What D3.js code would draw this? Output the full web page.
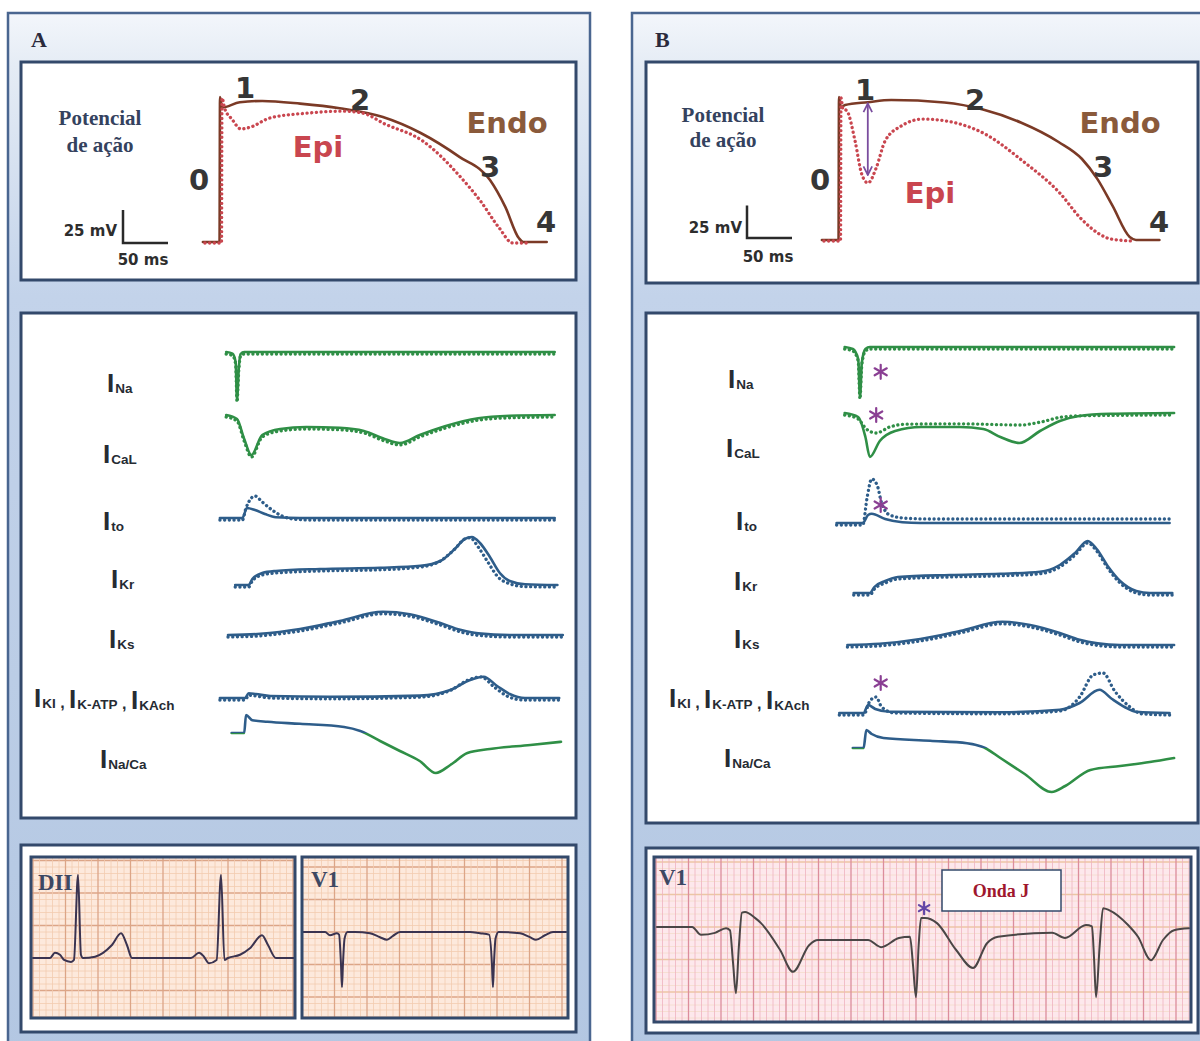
<!DOCTYPE html>
<html>
<head>
<meta charset="utf-8">
<script src="https://cdn.jsdelivr.net/npm/d3@7"></script>
<style>
  body { margin: 0; background: #fff; }
  svg { display: block; }
</style>
</head>
<body>
<svg width="1200" height="1041"></svg>
<script>
// ---- action potentials  [ms, mV] ----
var apEndoA = [[-19,-85],[-0.5,-85],[0,25],[2.2,17],[22,21],[47,22],[89,20],[133,16.5],[181,9.8],[223,-2.3],[266,-20.4],[300,-38],[317,-58.4],[332,-82],[337,-85],[363,-85]];
var apEpiA  = [[-19,-85],[-0.5,-85],[0,25],[3,17],[11,9],[21,1.5],[32,3],[53,9.8],[96,13.6],[133,15],[156,13.6],[181,5.3],[223,-7.6],[266,-35.7],[287,-53],[308,-73.6],[323,-85],[339,-85]];
var apEndoB = [[-19,-85],[-0.5,-85],[0,25],[2,17],[6.7,18.8],[32,21],[58,22.7],[117,20.8],[160,15.4],[202,5.4],[244,-9.6],[270,-22.7],[287,-38],[304,-58.8],[323,-82.7],[330,-85],[356,-85]];
var apEpiB  = [[-19,-85],[-0.5,-85],[0,25],[2,17],[6.7,15],[15.6,-8],[23,-33.5],[30,-40.4],[39,-29],[49,-8],[67,3.5],[91,8.8],[117,7.3],[160,-2.7],[202,-23.5],[244,-48.8],[266,-67.3],[287,-79.6],[300,-83.5],[326,-85]];
var notchArrowB = [32, 20, -35];   // ms, from mV, to mV

// ---- ionic currents  [ms, arbitrary units] ----
var iNaA     = [[-12,0],[-5,-0.4],[-1.5,-2.5],[0,-12],[2,-4],[4,-0.5],[8,0],[353,0]];
var iCaLA    = [[-12,0],[0,-1],[8,-6],[16,-10],[28,-5],[48,-3.5],[77,-3],[114,-3.2],[141,-4],[164,-6],[181,-7],[203,-5],[231,-2.8],[268,-0.8],[303,-0.2],[353,0]];
var itoA     = [[-19,0],[6,0],[11,2.5],[20,2],[31,1],[43,0.2],[70,0],[353,0]];
var itoEpiA  = [[-19,0],[6,0],[10,3],[13,4.5],[20,6],[28,4.5],[39,2.5],[50,1],[64,0.2],[81,0],[353,0]];
var ikrA     = [[-2,0],[13,0],[17,1.5],[28,3],[43,3.5],[92,4],[159,4.3],[204,4.8],[226,6],[242,9],[253,11.5],[261,12],[270,10.5],[281,7],[292,3],[303,1],[320,0.2],[356,0]];
var ikrEpiA  = [[-2,0],[13,0],[17,1.5],[28,3],[43,3.5],[92,4],[159,4.3],[204,5],[226,6.5],[242,9.5],[253,12],[259,12.3],[268,10],[278,6.5],[290,2.5],[303,0.8],[320,0.1],[356,0]];
var iksA     = [[-10,0],[26,0.3],[70,1.5],[114,3.5],[162,5.8],[192,5.2],[226,3],[248,1.3],[268,0.4],[303,0],[362,0]];
var ik1A     = [[-19,0],[9,0],[13,1.2],[21,1],[37,0.5],[103,0.3],[203,0.6],[237,2],[259,4.5],[274,5.3],[289,3],[303,1],[320,0],[358,0]];
var ik1EpiA  = [[-19,0],[9,0],[13,1.2],[21,1],[37,0.5],[103,0.3],[203,0.7],[237,2.4],[257,5],[271,5.8],[286,3.2],[300,1],[318,0],[358,0]];
var iNaCaA   = [[-6,0],[8,0],[10,4.5],[17,3.2],[34,2.8],[70,2.3],[119,1.5],[137,0.5],[159,-2],[181,-4.5],[203,-7],[221,-10],[237,-8],[256,-5],[281,-4],[326,-3],[360,-2.2]];

var iNaB     = [[-17,0],[-8,-0.5],[-2,-3],[0,-12.5],[2,-4],[6,-0.5],[11,0],[349,0]];
var iCaLB    = [[-17,0],[-2,-1],[6,-6],[11,-11],[22,-7],[39,-4.5],[68,-3.5],[111,-3.5],[137,-4],[156,-6],[177,-7.5],[200,-4.5],[222,-2],[242,-0.8],[278,-0.2],[349,0]];
var iCaLEpiB = [[-17,0],[-2,-1],[7,-3.5],[18,-4.5],[33,-3],[51,-2.3],[111,-2.2],[178,-2.5],[200,-1.8],[222,-0.6],[244,-0.2],[349,0]];
var itoB     = [[-26,0],[3,0],[9,2],[13,2.3],[28,1],[47,0.2],[67,0],[344,0]];
var itoEpiB  = [[-26,0],[3,0],[8,7],[13,11.5],[19,10],[24,5.5],[33,2.5],[50,1.7],[78,1.5],[344,1.5]];
var ikrB     = [[-7,0],[11,0],[16,1.5],[28,3],[42,4],[100,4.5],[156,4.8],[200,5.3],[222,7],[239,10],[253,13],[263,11],[276,6.5],[289,3],[307,0.5],[322,0],[347,0]];
var iksB     = [[-14,0],[22,0.3],[67,1.5],[111,3.5],[158,5.8],[189,5],[222,3],[244,1.3],[264,0.4],[289,0],[349,0]];
var ik1B     = [[-23,0],[4,0],[9,2],[17,1],[33,0.3],[156,0.2],[222,0.8],[244,2.5],[266,5.8],[280,3.5],[294,1.5],[307,0.3],[344,0]];
var ik1EpiB  = [[-23,0],[4,0],[11,3.5],[18,4.5],[24,2],[39,0.5],[156,0.3],[222,1],[244,4.5],[259,10],[270,10.5],[283,6],[300,2],[313,0.3],[344,0]];
var iNaCaB   = [[-8,0],[4,0],[7,4.5],[13,3.5],[26,2.5],[78,1.8],[119,1.2],[139,0],[156,-2.5],[183,-6.5],[213,-11],[228,-9.5],[256,-5.5],[289,-4.5],[322,-3.5],[349,-2.5]];

var currentNames = [["Na"],["CaL"],["to"],["Kr"],["Ks"],["KI","K-ATP","KAch"],["Na/Ca"]];
// asterisks on panel B currents: [row, ms, units]
var starsB = [[0,23,-6.2],[1,18,-0.5],[2,23,4.5],[5,23,7.5]];

// ---- ECG  [ms, mV] ----
var ecgDIIA = [[0,0],[105,0],[135,0.08],[166,0.05],[191,-0.03],[234,-0.06],[252,-0.03],[277,1.28],[295,0.05],[308,0],[382,0.02],[431,0.08],[486,0.2],[542,0.38],[578,0.2],[609,0],[972,0],[1022,0.08],[1052,0.02],[1083,-0.08],[1130,-0.03],[1157,1.28],[1178,-0.03],[1200,0],[1274,0.05],[1335,0.15],[1409,0.35],[1446,0.2],[1495,0],[1606,0]];
var ecgV1A  = [[0,0],[142,0],[172,-0.05],[215,-0.02],[228,-0.04],[240,-0.5],[246,-0.85],[252,-0.5],[262,-0.1],[280,0],[326,0],[418,-0.02],[480,-0.08],[523,-0.12],[560,-0.06],[603,0],[1034,0],[1095,-0.02],[1151,-0.04],[1169,-0.5],[1175,-0.85],[1181,-0.5],[1191,-0.1],[1210,0],[1342,-0.02],[1403,-0.08],[1440,-0.12],[1495,-0.05],[1545,0],[1625,0]];
var ecgV1B  = [[6,0],[222,0],[277,-0.12],[363,-0.09],[431,-0.02],[455,-0.05],[474,-0.55],[492,-1.02],[510,-0.3],[529,0.22],[548,0.23],[609,0.14],[646,0.06],[763,-0.35],[843,-0.69],[942,-0.28],[997,-0.2],[1305,-0.2],[1385,-0.31],[1495,-0.17],[1563,-0.15],[1582,-0.6],[1600,-1.08],[1616,-0.3],[1631,0.14],[1655,0.14],[1729,0.06],[1846,-0.35],[1951,-0.63],[2037,-0.25],[2105,-0.15],[2437,-0.09],[2517,-0.17],[2646,0.03],[2683,0.01],[2696,-0.5],[2708,-1.08],[2730,-0.3],[2751,0.29],[2788,0.26],[2905,0.03],[2966,-0.15],[3046,-0.51],[3120,-0.2],[3188,-0.05],[3280,-0.02]];
var jWaveMark = [1650, 0.29];

// ---- styles ----
var GREEN = "#2f8f46", BLUE = "#2e5d8a", ENDO = "#7b3a26", EPI = "#c9464f",
    PURPLE = "#8a3f93", BORDER = "#33496b", TXT = "#333";

var svg = d3.select("svg");
var defs = svg.append("defs");

var grad = defs.append("linearGradient").attr("id", "panelFill")
  .attr("x1", 0).attr("y1", 0).attr("x2", 0).attr("y2", 1);
[[0, "#f3f6fb"], [0.05, "#e5ecf5"], [0.27, "#c3d3ea"], [1, "#b3c7e2"]].forEach(function(s) {
  grad.append("stop").attr("offset", s[0]).attr("stop-color", s[1]);
});

["arrowEnd"].forEach(function(id) {
  defs.append("marker").attr("id", id).attr("viewBox", "0 0 10 10")
    .attr("refX", 9).attr("refY", 5).attr("markerWidth", 6).attr("markerHeight", 6)
    .attr("orient", "auto-start-reverse")
    .append("path").attr("d", "M1,1 L9,5 L1,9").attr("fill", "none")
    .attr("stroke", "#7a4d9e").attr("stroke-width", 1.6);
});

function trace(g, data, xs, ys, color, opts) {
  opts = opts || {};
  var gen = d3.line().x(function(d) { return xs(d[0]); }).y(function(d) { return ys(d[1]); })
    .curve(d3.curveMonotoneX);
  var p = g.append("path").attr("d", gen(data)).attr("fill", "none")
    .attr("stroke", color).attr("stroke-width", opts.width || 2.6)
    .attr("stroke-linejoin", "round").attr("stroke-linecap", "round");
  if (opts.dotted) p.attr("stroke-dasharray", "0.1 4.6").attr("stroke-width", opts.width || 3.3);
  if (opts.dx || opts.dy) p.attr("transform", "translate(" + (opts.dx || 0) + "," + (opts.dy || 0) + ")");
  if (opts.clip) p.attr("clip-path", "url(#" + opts.clip + ")");
  return p;
}

function text(g, x, y, str, o) {
  return g.append("text").attr("x", x).attr("y", y).text(str)
    .attr("font-family", o.family).attr("font-size", o.size)
    .attr("font-weight", o.weight || "bold").attr("fill", o.fill || TXT)
    .attr("text-anchor", o.anchor || "middle");
}

function star(g, cx, cy, r, color) {
  [90, 30, -30].forEach(function(a) {
    var rad = a * Math.PI / 180;
    g.append("line")
      .attr("x1", cx - r * Math.cos(rad)).attr("y1", cy - r * Math.sin(rad))
      .attr("x2", cx + r * Math.cos(rad)).attr("y2", cy + r * Math.sin(rad))
      .attr("stroke", color).attr("stroke-width", 2.2).attr("stroke-linecap", "round");
  });
}

function box(g, b, fill, sw) {
  return g.append("rect").attr("x", b[0]).attr("y", b[1]).attr("width", b[2] - b[0]).attr("height", b[3] - b[1])
    .attr("fill", fill).attr("stroke", BORDER).attr("stroke-width", sw || 3);
}

function currentLabel(g, x, y, subs) {
  var t = g.append("text").attr("x", x).attr("y", y)
    .attr("font-family", "Liberation Sans, Arial, sans-serif").attr("fill", "#262b33");
  subs.forEach(function(s, i) {
    if (i > 0) t.append("tspan").attr("font-size", 16).attr("font-weight", "bold").text(" , ");
    t.append("tspan").attr("font-size", 26).attr("font-weight", "bold").text("I");
    t.append("tspan").attr("font-size", 13.5).attr("font-weight", "bold").attr("dx", 1).attr("dy", 1).text(s);
    t.append("tspan").attr("dy", -1).text("");
  });
}

function ecgGrid(g, b, xs, ys, pal, clipId) {
  defs.append("clipPath").attr("id", clipId).append("rect")
    .attr("x", b[0]).attr("y", b[1]).attr("width", b[2] - b[0]).attr("height", b[3] - b[1]);
  var gg = g.append("g").attr("clip-path", "url(#" + clipId + ")");
  gg.append("rect").attr("x", b[0]).attr("y", b[1]).attr("width", b[2] - b[0]).attr("height", b[3] - b[1]).attr("fill", pal.bg);
  var t0 = Math.ceil(xs.invert(b[0]) / 40), t1 = Math.floor(xs.invert(b[2]) / 40);
  var v0 = Math.ceil(ys.invert(b[3]) * 10), v1 = Math.floor(ys.invert(b[1]) * 10);
  d3.range(v0, v1 + 1).forEach(function(k) {
    var major = Math.abs(k) % 5 === 0;
    gg.append("line").attr("x1", b[0]).attr("x2", b[2]).attr("y1", ys(k / 10)).attr("y2", ys(k / 10))
      .attr("stroke", major ? pal.hMajor : pal.hMinor).attr("stroke-width", major ? 1.3 : 0.8);
  });
  d3.range(t0, t1 + 1).forEach(function(k) {
    var major = Math.abs(k) % 5 === 0;
    gg.append("line").attr("y1", b[1]).attr("y2", b[3]).attr("x1", xs(k * 40)).attr("x2", xs(k * 40))
      .attr("stroke", major ? pal.vMajor : pal.vMinor).attr("stroke-width", major ? 1.3 : 0.8);
  });
  return gg;
}

// ---- layout ----
var panels = [
  {
    id: "A", outer: [8, 13, 590, 1060], letter: [31, 47],
    boxes: [[21, 62, 576, 280], [21, 313, 576, 818], [21, 845, 576, 1032]],
    ap: { endo: apEndoA, epi: apEpiA, x: [220, 310], y: [242, 97], bar: [123, 243],
          title: [100, 125, 152], mv: [117, 236], ms: [143, 265],
          nums: [["1", 245, 98], ["2", 360, 110], ["3", 490, 177], ["0", 199, 190], ["4", 546, 232]],
          endoLbl: [507, 133], epiLbl: [318, 157] },
    cur: { x: [237, 327],
           rows: [[iNaA, iNaA, GREEN], [iCaLA, iCaLA, GREEN], [itoA, itoEpiA, BLUE], [ikrA, ikrEpiA, BLUE],
                  [iksA, iksA, BLUE], [ik1A, ik1EpiA, BLUE], [iNaCaA, null, "split"]],
           base: [352, 415, 518, 585, 635, 698, 733],
           lblX: [107, 103, 103, 111, 109, 34, 100], lblY: [392, 463, 530, 588, 648, 707, 768] }
  },
  {
    id: "B", outer: [632, 13, 1230, 1060], letter: [655, 47],
    boxes: [[646, 62, 1198, 283], [646, 313, 1198, 823], [646, 848, 1198, 1033]],
    ap: { endo: apEndoB, epi: apEpiB, x: [839, 929], y: [240, 97], bar: [747, 238],
          title: [723, 122, 147], mv: [742, 233], ms: [768, 262],
          nums: [["1", 865, 100], ["2", 975, 110], ["3", 1103, 177], ["0", 820, 190], ["4", 1159, 232]],
          endoLbl: [1120, 133], epiLbl: [930, 203] },
    cur: { x: [860, 950],
           rows: [[iNaB, iNaB, GREEN], [iCaLB, iCaLEpiB, GREEN], [itoB, itoEpiB, BLUE], [ikrB, ikrB, BLUE],
                  [iksB, iksB, BLUE], [ik1B, ik1EpiB, BLUE], [iNaCaB, null, "split"]],
           base: [347, 413, 523, 593, 645, 713, 748],
           lblX: [728, 726, 736, 734, 734, 669, 724], lblY: [388, 457, 530, 590, 648, 707, 767] }
  }
];

panels.forEach(function(P) {
  var g = svg.append("g");
  g.append("rect").attr("x", P.outer[0]).attr("y", P.outer[1])
    .attr("width", P.outer[2] - P.outer[0]).attr("height", P.outer[3] - P.outer[1])
    .attr("fill", "url(#panelFill)").attr("stroke", "#4a6690").attr("stroke-width", 2.5);
  text(g, P.letter[0], P.letter[1], P.id, { family: "Liberation Serif, serif", size: 22, fill: "#2a2a3c", anchor: "start" });

  P.boxes.forEach(function(b) { box(g, b, "#fff"); });

  // -- action potential --
  var A = P.ap;
  var xs = d3.scaleLinear().domain([0, 100]).range(A.x);
  var ys = d3.scaleLinear().domain([-85, 25]).range(A.y);
  trace(g, A.endo, xs, ys, ENDO, { width: 2.6 });
  trace(g, A.epi, xs, ys, EPI, { dotted: true, dx: 2, dy: 1 });
  text(g, A.title[0], A.title[1], "Potencial", { family: "Liberation Serif, serif", size: 21, fill: "#34425e" });
  text(g, A.title[0], A.title[2], "de ação", { family: "Liberation Serif, serif", size: 21, fill: "#34425e" });
  var bx = A.bar[0], by = A.bar[1];
  g.append("path").attr("fill", "none").attr("stroke", "#2a2a2a").attr("stroke-width", 2.5)
    .attr("d", "M" + bx + "," + (by - (ys(-85) - ys(-60))) + " V" + by + " H" + (bx + xs(50) - xs(0)));
  text(g, A.mv[0], A.mv[1], "25 mV", { family: "DejaVu Sans, sans-serif", size: 15, anchor: "end", fill: "#2d2d2d" });
  text(g, A.ms[0], A.ms[1], "50 ms", { family: "DejaVu Sans, sans-serif", size: 15, fill: "#2d2d2d" });
  A.nums.forEach(function(n) {
    text(g, n[1], n[2], n[0], { family: "DejaVu Sans, sans-serif", size: 29, fill: "#363636" });
  });
  text(g, A.endoLbl[0], A.endoLbl[1], "Endo", { family: "DejaVu Sans, sans-serif", size: 29, fill: "#8a5a3b" });
  text(g, A.epiLbl[0], A.epiLbl[1], "Epi", { family: "DejaVu Sans, sans-serif", size: 29, fill: EPI });
  if (P.id === "B") {
    g.append("line").attr("x1", xs(notchArrowB[0])).attr("x2", xs(notchArrowB[0]))
      .attr("y1", ys(notchArrowB[1])).attr("y2", ys(notchArrowB[2]))
      .attr("stroke", "#7a4d9e").attr("stroke-width", 1.8)
      .attr("marker-start", "url(#arrowEnd)").attr("marker-end", "url(#arrowEnd)");
  }

  // -- ionic currents --
  var C = P.cur;
  var cx = d3.scaleLinear().domain([0, 100]).range(C.x);
  C.rows.forEach(function(r, i) {
    var base = C.base[i];
    var cy = d3.scaleLinear().domain([0, 1]).range([base, base - 4]);
    if (r[2] === "split") {
      var pos = "clipPos" + P.id, neg = "clipNeg" + P.id;
      defs.append("clipPath").attr("id", pos).append("rect").attr("x", 0).attr("y", 0).attr("width", 1200).attr("height", cy(0));
      defs.append("clipPath").attr("id", neg).append("rect").attr("x", 0).attr("y", cy(0)).attr("width", 1200).attr("height", 1041 - cy(0));
      trace(g, r[0], cx, cy, BLUE, { clip: pos });
      trace(g, r[0], cx, cy, GREEN, { clip: neg });
    } else {
      trace(g, r[0], cx, cy, r[2]);
      trace(g, r[1], cx, cy, r[2], { dotted: true, dy: 2 });
    }
    currentLabel(g, C.lblX[i], C.lblY[i], currentNames[i]);
  });
  if (P.id === "B") {
    starsB.forEach(function(s) {
      var base = C.base[s[0]];
      var cy = d3.scaleLinear().domain([0, 1]).range([base, base - 4]);
      star(g, cx(s[1]), cy(s[2]), 7, PURPLE);
    });
  }
});

// ---- ECG strips ----
var gE = svg.append("g");
var peach = { bg: "#fde9dc", hMinor: "#f3cbb0", hMajor: "#dca587", vMinor: "#f3cbb0", vMajor: "#dca587" };
var pink  = { bg: "#fde8ec", hMinor: "#f4dccb", hMajor: "#ecc6a4", vMinor: "#efb3c0", vMajor: "#dc8d9d" };

var ecgStrips = [
  { box: [31, 857, 295, 1018], data: ecgDIIA, x0: 33, y0: 958, pal: peach, color: "#3a3350", name: "DII", lbl: [38, 890] },
  { box: [302, 857, 568, 1018], data: ecgV1A, x0: 302, y0: 932, pal: peach, color: "#3a3350", name: "V1", lbl: [311, 887] },
  { box: [654, 857, 1191, 1022], data: ecgV1B, x0: 656, y0: 927, pal: pink, color: "#4a4646", name: "V1", lbl: [659, 885] }
];
ecgStrips.forEach(function(s, i) {
  var xs = d3.scaleLinear().domain([0, 1000]).range([s.x0, s.x0 + 162.5]);
  var ys = d3.scaleLinear().domain([0, 1]).range([s.y0, s.y0 - 65]);
  var gg = ecgGrid(gE, s.box, xs, ys, s.pal, "ecgClip" + i);
  trace(gg, s.data, xs, ys, s.color, { width: 2 });
  text(gE, s.lbl[0], s.lbl[1], s.name, { family: "Liberation Serif, serif", size: 23, fill: "#3d4863", anchor: "start" });
  box(gE, s.box, "none", 3);
  if (i === 2) {
    star(gE, xs(jWaveMark[0]), ys(jWaveMark[1]), 6, "#6346a6");
    gE.append("rect").attr("x", 942).attr("y", 870).attr("width", 119).attr("height", 41)
      .attr("fill", "#fff").attr("stroke", BORDER).attr("stroke-width", 1.5);
    text(gE, 1001, 897, "Onda J", { family: "Liberation Serif, serif", size: 18, fill: "#a0172d" });
  }
});
</script>
</body>
</html>
